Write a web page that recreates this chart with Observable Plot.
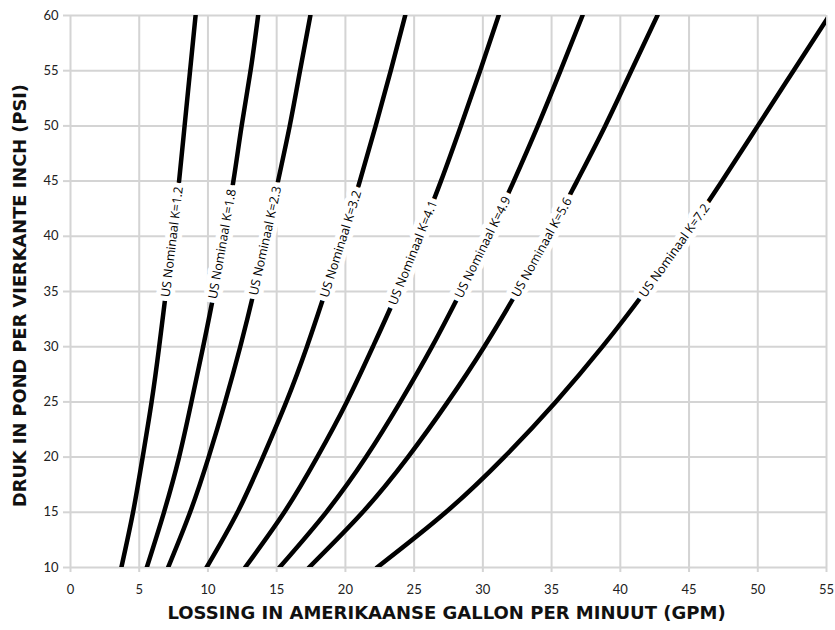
<!DOCTYPE html>
<html>
<head>
<meta charset="utf-8">
<script src="https://cdn.jsdelivr.net/npm/d3@7"></script>
<script src="https://cdn.jsdelivr.net/npm/@observablehq/plot@0.6"></script>
<style>
  html, body { margin: 0; padding: 0; background: #fff; }
  #chart svg { display: block; }
</style>
</head>
<body>
<div id="chart"></div>
<script>
// ---- Data ----
const pressures = [10, 15, 20, 25, 30, 35, 40, 45, 50, 55, 60];   // PSI
const seriesNames = ["US Nominaal K=1.2", "US Nominaal K=1.8", "US Nominaal K=2.3", "US Nominaal K=3.2",
                     "US Nominaal K=4.1", "US Nominaal K=4.9", "US Nominaal K=5.6", "US Nominaal K=7.2"];
// discharge (GPM) at each pressure above
const k12 = [3.7, 4.55, 5.25, 5.9, 6.45, 6.95, 7.45, 7.9, 8.3, 8.7, 9.1];
const k18 = [5.55, 6.8, 7.9, 8.8, 9.65, 10.45, 11.15, 11.85, 12.45, 13.1, 13.65];
const k23 = [7.1, 8.7, 10.05, 11.25, 12.35, 13.35, 14.25, 15.1, 15.95, 16.7, 17.45];
const k32 = [9.9, 12.15, 14.0, 15.7, 17.2, 18.55, 19.85, 21.05, 22.2, 23.3, 24.35];
const k41 = [12.7, 15.55, 17.95, 20.1, 22.0, 23.8, 25.4, 26.95, 28.4, 29.8, 31.15];
const k49 = [15.2, 18.6, 21.5, 24.0, 26.3, 28.4, 30.4, 32.25, 34.0, 35.65, 37.25];
const k56 = [17.35, 21.25, 24.55, 27.45, 30.1, 32.5, 34.75, 36.85, 38.9, 40.8, 42.7];
const k72 = [22.3, 27.3, 31.55, 35.3, 38.7, 41.8, 44.7, 47.4, 50.0, 52.6, 55.2];
const seriesValues = [k12, k18, k23, k32, k41, k49, k56, k72];
// pressure at which each curve's label sits
const labelPressure = [39.5, 39.3, 39.6, 39.3, 38.5, 39, 39, 38.7];
const xTicks = [0, 5, 10, 15, 20, 25, 30, 35, 40, 45, 50, 55];
const yTicks = [10, 15, 20, 25, 30, 35, 40, 45, 50, 55, 60];
const xTitle = "LOSSING IN AMERIKAANSE GALLON PER MINUUT (GPM)";
const yTitle = "DRUK IN POND PER VIERKANTE INCH (PSI)";

// ---- Layout ----
const W = 835, H = 630;
const mL = 70, mR = 9, mT = 15, mB = 63;
const gridColor = "#d4d4d4";
const tickFont = "Lato, 'Open Sans', sans-serif";
const titleFont = "'DejaVu Sans', Verdana, sans-serif";

// long-format table
const rows = [];
seriesNames.forEach((name, i) => {
  pressures.forEach((p, j) => rows.push({name, psi: p, gpm: seriesValues[i][j]}));
});

// standalone scales (same as the plot's) to orient labels along curves
const xs = Plot.scale({x: {domain: [0, 55], range: [mL, W - mR]}});
const ys = Plot.scale({y: {domain: [10, 60], range: [H - mB, mT]}});
function qAt(vals, p) {
  const i = Math.min(pressures.length - 2, Math.max(0, d3.bisectRight(pressures, p) - 1));
  const t = (p - pressures[i]) / (pressures[i + 1] - pressures[i]);
  return vals[i] + t * (vals[i + 1] - vals[i]);
}
const labels = seriesNames.map((name, i) => {
  const p = labelPressure[i];
  const q = qAt(seriesValues[i], p);
  const q1 = qAt(seriesValues[i], p - 2), q2 = qAt(seriesValues[i], p + 2);
  const ang = Math.atan2(ys.apply(p + 2) - ys.apply(p - 2), xs.apply(q2) - xs.apply(q1)) * 180 / Math.PI;
  return {name, psi: p, gpm: q, angle: ang};
});

const chart = Plot.plot({
  width: W,
  height: H,
  marginLeft: mL,
  marginRight: mR,
  marginTop: mT,
  marginBottom: mB,
  style: {background: "#fff", fontFamily: tickFont},
  x: {domain: [0, 55]},
  y: {domain: [10, 60]},
  marks: [
    Plot.gridX(xTicks, {stroke: gridColor, strokeOpacity: 1, strokeWidth: 2}),
    Plot.gridY(yTicks, {stroke: gridColor, strokeOpacity: 1, strokeWidth: 2}),
    Plot.axisX(xTicks, {tickSize: 5, tickPadding: 12, stroke: gridColor, strokeWidth: 2, fill: "#222",
      fontSize: 13, label: null, tickFormat: d => String(d)}),
    Plot.axisY(yTicks, {tickSize: 7, tickPadding: 5, stroke: gridColor, strokeWidth: 2, fill: "#222",
      fontSize: 13, label: null, tickFormat: d => String(d)}),
    Plot.line(rows, {x: "gpm", y: "psi", z: "name", stroke: "#000", strokeWidth: 4.5,
      curve: "natural", clip: true}),
    Plot.text(labels, {x: "gpm", y: "psi", text: "name", rotate: "angle",
      fill: "#000", stroke: "#fff", strokeWidth: 10, fontSize: 12.5,
      fontFamily: "'Open Sans', sans-serif", textAnchor: "middle", lineAnchor: "middle"}),
    Plot.text([xTitle], {frameAnchor: "bottom", dx: -2, dy: 46, text: d => d, fontSize: 18, fontWeight: "bold",
      fill: "#111", fontFamily: titleFont, textAnchor: "middle", lineAnchor: "middle"}),
    Plot.text([yTitle], {frameAnchor: "left", dx: -50, dy: 4, rotate: -90, text: d => d, fontSize: 17.8, fontWeight: "bold",
      fill: "#111", fontFamily: titleFont, textAnchor: "middle", lineAnchor: "middle"})
  ]
});
document.getElementById("chart").appendChild(chart);
</script>
</body>
</html>
